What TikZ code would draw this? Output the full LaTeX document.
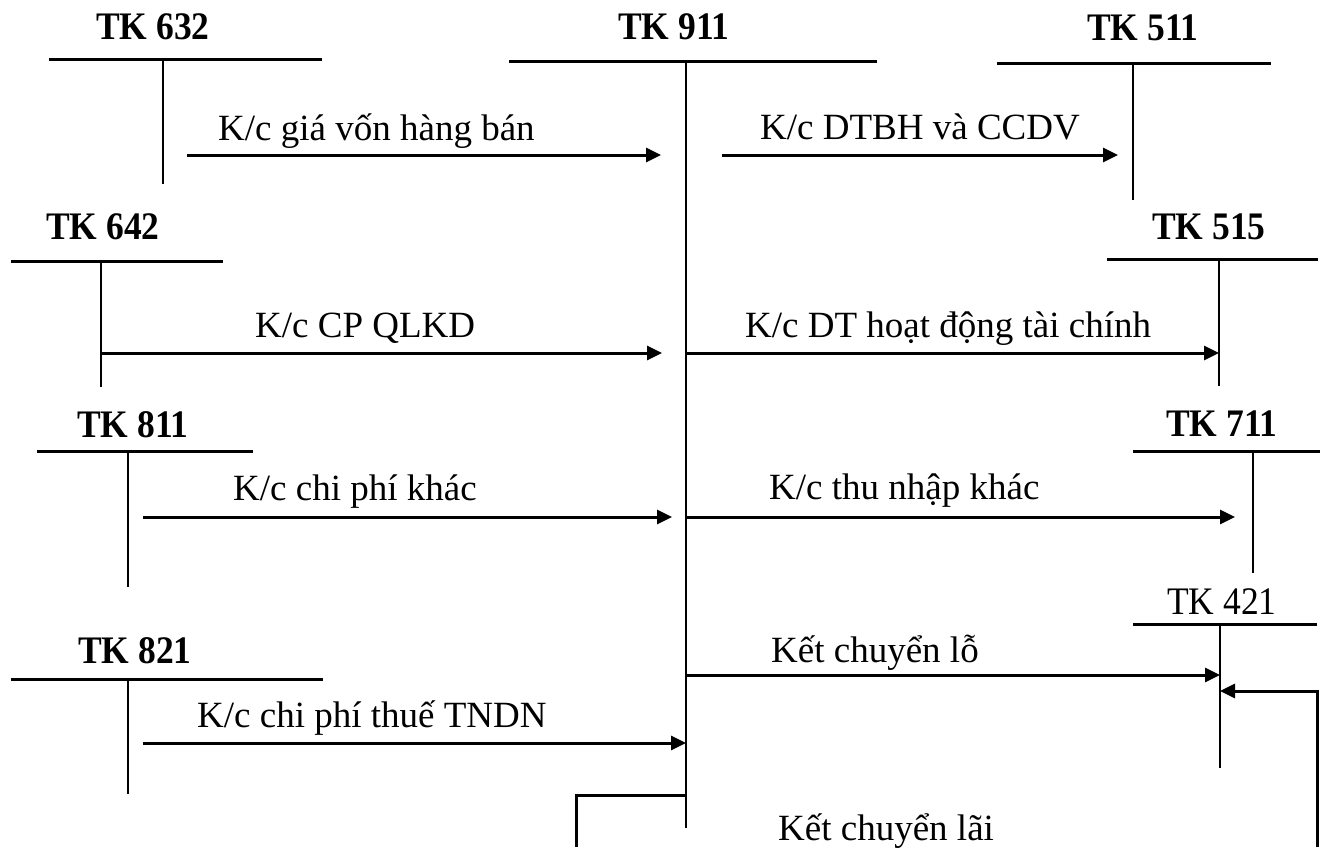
\documentclass[tikz,border=0pt]{standalone}
\usepackage{fontspec}
\usepackage{graphicx}
\setmainfont{Liberation Serif}
\usetikzlibrary{arrows.meta}
% account headings: bold, slightly condensed
\newcommand\acctname[1]{\scalebox{0.91}[1]{#1}}
\begin{document}
\begin{tikzpicture}[x=1pt,y=-1pt,
  acct/.style={font=\fontsize{39}{42}\selectfont\bfseries, inner sep=0pt, anchor=base west},
  acctplain/.style={font=\fontsize{39}{42}\selectfont, inner sep=0pt, anchor=base west},
  lbl/.style={font=\fontsize{37}{40}\selectfont, inner sep=0pt, anchor=base west},
  bar/.style={line width=3pt},
  stem/.style={line width=1.8pt},
  flow/.style={line width=3pt, -{Triangle[length=15pt,width=14pt]}},
  plainline/.style={line width=3pt}]
\useasboundingbox (0,0) rectangle (1331,847);

% ---- account headings
\node[acct] (t632) at (96,39)    {\acctname{TK 632}};
\node[acct] (t911) at (618,39)   {\acctname{TK 911}};
\node[acct] (t511) at (1087,40)  {\acctname{TK 511}};
\node[acct] (t642) at (46,239)   {\acctname{TK 642}};
\node[acct] (t515) at (1152,239) {\acctname{TK 515}};
\node[acct] (t811) at (77,437)   {\acctname{TK 811}};
\node[acct] (t711) at (1166,436) {\acctname{TK 711}};
\node[acct] (t821) at (78,663)   {\acctname{TK 821}};
\node[acctplain] (t421) at (1167,614) {\acctname{TK 421}};

% ---- T-accounts: bar and stem
\draw[bar] (49,59) -- (322,59);     \draw[stem] (163,59) -- (163,184);
\draw[bar] (509,61) -- (877,61);    \draw[stem] (686,61) -- (686,828);
\draw[bar] (997,63) -- (1271,63);   \draw[stem] (1133,63) -- (1133,200);
\draw[bar] (11,261) -- (223,261);   \draw[stem] (101,261) -- (101,387);
\draw[bar] (1107,259) -- (1318,259); \draw[stem] (1219,259) -- (1219,386);
\draw[bar] (37,451) -- (253,451);   \draw[stem] (128,451) -- (128,587);
\draw[bar] (1133,451) -- (1320,451); \draw[stem] (1253,451) -- (1253,573);
\draw[bar] (11,679) -- (323,679);   \draw[stem] (128,679) -- (128,794);
\draw[bar] (1133,624) -- (1317,624); \draw[stem] (1220,624) -- (1220,768);

% ---- connector end points
\coordinate (s632) at (187,155);  \coordinate (e632) at (661,155);
\coordinate (s511) at (722,155);  \coordinate (e511) at (1118,155);
\coordinate (s642) at (101,353);  \coordinate (e642) at (662,353);
\coordinate (s515) at (686,353);  \coordinate (e515) at (1219,353);
\coordinate (s811) at (143,517);  \coordinate (e811) at (672,517);
\coordinate (s711) at (686,517);  \coordinate (e711) at (1235,517);
\coordinate (sLo)  at (686,675);  \coordinate (eLo)  at (1220,675);
\coordinate (s821) at (143,743);  \coordinate (e821) at (686,743);
\coordinate (sLai) at (686,795);  \coordinate (cLai1) at (576,795);
\coordinate (cLai2) at (576,847); \coordinate (cLai3) at (1317,847);
\coordinate (cLai4) at (1317,691); \coordinate (eLai) at (1220,691);

% ---- transfers
\draw[flow] (s632) -- (e632);
\draw[flow] (s511) -- (e511);
\draw[flow] (s642) -- (e642);
\draw[flow] (s515) -- (e515);
\draw[flow] (s811) -- (e811);
\draw[flow] (s711) -- (e711);
\draw[flow] (sLo) -- (eLo);
\draw[flow] (s821) -- (e821);
\draw[plainline] (sLai) -- (cLai1) -- (cLai2);
\draw[flow] (cLai3) -- (cLai4) -- (eLai);

% ---- labels
\node[lbl] (l1) at (218,140) {K/c giá vốn hàng bán};
\node[lbl] (l2) at (760,139) {K/c DTBH và CCDV};
\node[lbl] (l3) at (255,337) {K/c CP QLKD};
\node[lbl] (l4) at (745,337) {K/c DT hoạt động tài chính};
\node[lbl] (l5) at (233,500) {K/c chi phí khác};
\node[lbl] (l6) at (769,499) {K/c thu nhập khác};
\node[lbl] (l7) at (771,662) {Kết chuyển lỗ};
\node[lbl] (l8) at (197,727) {K/c chi phí thuế TNDN};
\node[lbl] (l9) at (778,840) {Kết chuyển lãi};
\end{tikzpicture}
\end{document}
